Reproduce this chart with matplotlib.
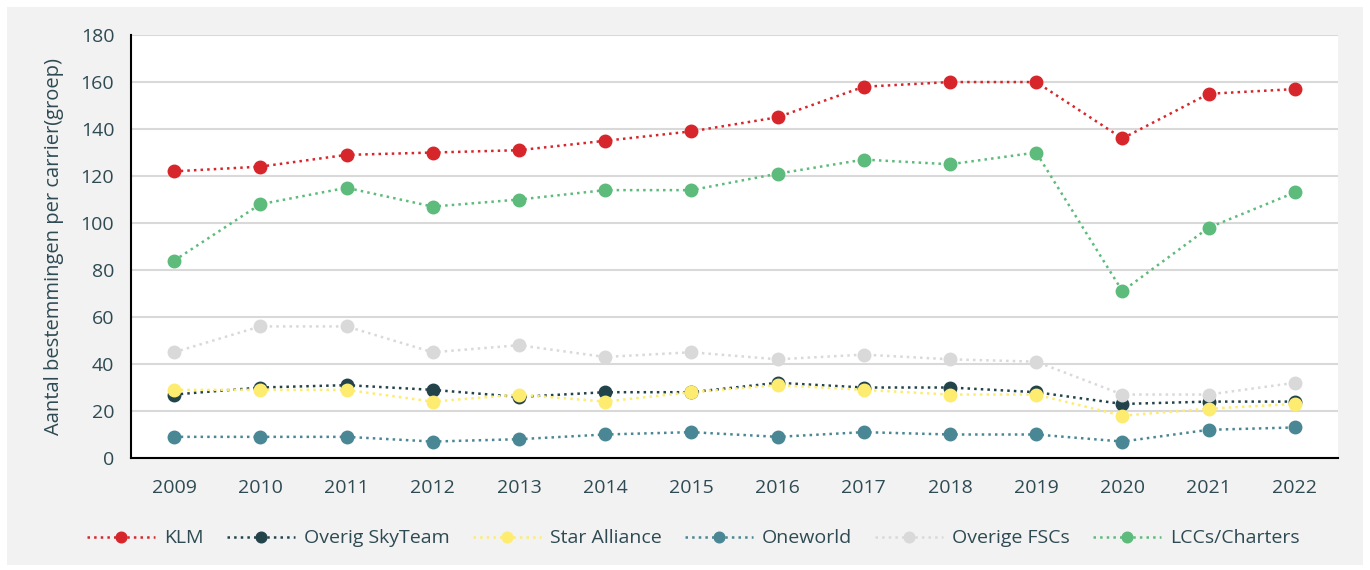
import matplotlib.pyplot as plt
from matplotlib.patches import Rectangle
import numpy as np

years = ['2009', '2010', '2011', '2012', '2013', '2014', '2015',
         '2016', '2017', '2018', '2019', '2020', '2021', '2022']

klm = [122, 124, 129, 130, 131, 135, 139, 145, 158, 160, 160, 136, 155, 157]
skyteam = [27, 30, 31, 29, 26, 28, 28, 32, 30, 30, 28, 23, 24, 24]
star = [29, 29, 29, 24, 27, 24, 28, 31, 29, 27, 27, 18, 21, 23]
oneworld = [9, 9, 9, 7, 8, 10, 11, 9, 11, 10, 10, 7, 12, 13]
fscs = [45, 56, 56, 45, 48, 43, 45, 42, 44, 42, 41, 27, 27, 32]
lccs = [84, 108, 115, 107, 110, 114, 114, 121, 127, 125, 130, 71, 98, 113]

series = [
    ('KLM', klm, '#d7262b'),
    ('Overig SkyTeam', skyteam, '#23434b'),
    ('Star Alliance', star, '#fdec6f'),
    ('Oneworld', oneworld, '#4a8794'),
    ('Overige FSCs', fscs, '#d9d9d9'),
    ('LCCs/Charters', lccs, '#5dbb7b'),
]

text_color = '#2e4a52'
plt.rcParams['font.family'] = ['Open Sans', 'DejaVu Sans']

fig = plt.figure(figsize=(13.7, 5.7), dpi=100)
fig.patch.set_facecolor('white')
fig.patches.append(Rectangle((7 / 1370, 5 / 570), 1356 / 1370, 558 / 570,
                             transform=fig.transFigure, facecolor='#f2f2f2',
                             edgecolor='none', zorder=-10))

ax = fig.add_axes([0.0956, 0.1965, 0.881, 0.742])
ax.set_facecolor('white')

x = np.arange(len(years))
for name, vals, col in series:
    ax.plot(x, vals, linestyle=':', linewidth=1.8, color=col,
            marker='o', markersize=9, label=name)

ax.set_xlim(-0.5, len(years) - 0.5)
ax.set_ylim(0, 180)
ax.set_yticks(range(0, 181, 20))
ax.set_xticks(x)
ax.set_xticklabels(years)
ax.tick_params(axis='both', length=0, labelsize=14, colors=text_color)
ax.tick_params(axis='x', pad=15)
ax.tick_params(axis='y', pad=12)
ax.grid(axis='y', color='#d9d9d9', linewidth=1.5)
ax.set_axisbelow(True)
for s in ['top', 'right']:
    ax.spines[s].set_visible(False)
for s in ['left', 'bottom']:
    ax.spines[s].set_color('black')
    ax.spines[s].set_linewidth(1.5)

ax.set_ylabel('Aantal bestemmingen per carrier(groep)', fontsize=14.5,
              color=text_color, labelpad=12)

ax.legend(loc='center', bbox_to_anchor=(0.466, -0.19), ncol=6,
          frameon=False, fontsize=14, labelcolor=text_color,
          handlelength=3.5, columnspacing=1.2, handletextpad=0.45,
          markerscale=0.85)

fig.savefig('out.png', dpi=100)
